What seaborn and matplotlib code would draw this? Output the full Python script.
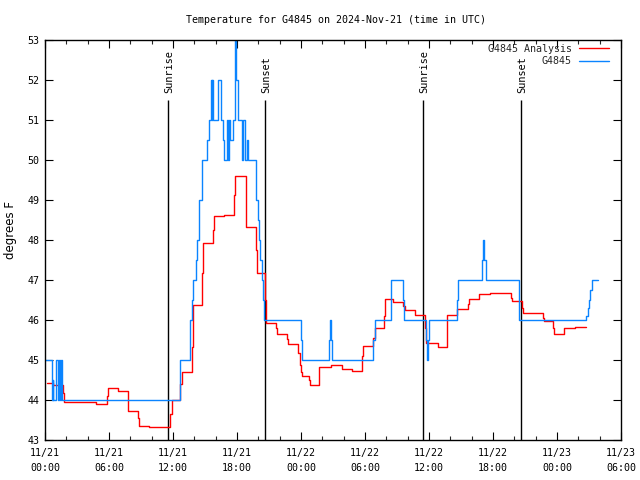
import matplotlib
matplotlib.use("Agg")
import matplotlib.pyplot as plt
import seaborn as sns
import pandas as pd

# ---- data (hours since 2024-11-21 00:00 UTC) ----
analysis_hours = [0.16, 0.72, 1.66, 1.78, 4.78, 5.78, 5.88, 6.82, 7.75, 8.75, 8.84, 9.78,
                  11.72, 11.88, 12.66, 12.81, 13.75, 13.85, 14.75, 14.84, 15.78, 15.87,
                  16.78, 17.75, 17.84, 18.84, 19.78, 19.90, 20.63, 20.72, 21.66, 21.78,
                  22.72, 22.81, 23.75, 23.90, 24.03, 24.12, 24.72, 24.81, 25.72, 26.78,
                  27.81, 28.75, 29.69, 29.78, 30.78, 30.90, 31.78, 31.88, 32.65, 33.59,
                  33.75, 34.69, 35.63, 35.72, 36.81, 37.72, 38.66, 39.69, 39.78, 40.72,
                  41.72, 43.66, 43.75, 44.69, 44.78, 46.72, 46.81, 47.66, 47.75, 48.69,
                  49.69, 50.72]
analysis_temps = [44.42, 44.38, 44.17, 43.94, 43.90, 44.10, 44.29, 44.22, 43.73, 43.54, 43.35, 43.32,
                  43.65, 44.00, 44.40, 44.70, 45.33, 46.38, 47.17, 47.92, 48.25, 48.60,
                  48.63, 49.13, 49.60, 48.33, 47.75, 47.17, 46.50, 45.92, 45.79, 45.64,
                  45.52, 45.39, 45.17, 44.88, 44.70, 44.60, 44.50, 44.37, 44.82, 44.87,
                  44.78, 44.72, 45.10, 45.35, 45.55, 45.79, 46.10, 46.53, 46.46, 46.35,
                  46.25, 46.13, 45.80, 45.42, 45.33, 46.13, 46.27, 46.40, 46.52, 46.65,
                  46.67, 46.55, 46.47, 46.30, 46.17, 46.05, 45.98, 45.80, 45.65, 45.79,
                  45.82, 45.82]

obs_hours = [0.00, 0.63, 0.72, 0.75, 1.00, 1.19, 1.31, 1.41, 1.50, 1.62,
             12.70, 13.55, 13.81, 13.90, 14.16, 14.28, 14.41, 14.69, 14.75, 15.22,
             15.40, 15.53, 15.62, 15.70, 15.78, 16.22, 16.50, 16.66, 16.75, 17.09,
             17.19, 17.28, 17.34, 17.59, 17.81, 17.94, 18.12, 18.50, 18.60, 18.78,
             18.90, 19.00, 19.78, 20.00, 20.09, 20.16, 20.31, 20.44, 20.56, 24.03, 24.12,
             26.62, 26.72, 26.81, 26.90, 30.78, 30.90, 32.40, 33.59, 33.69, 35.72,
             35.81, 35.91, 36.00, 38.66, 38.75, 40.94, 41.03, 41.19, 41.31, 44.40,
             50.72, 50.86, 50.97, 51.10, 51.30, 51.82]
obs_temps = [45.0, 44.0, 44.5, 44.0, 45.0, 44.0, 45.0, 44.0, 45.0, 44.0,
             45.0, 46.0, 46.5, 47.0, 47.5, 48.0, 49.0, 49.5, 50.0, 50.5,
             51.0, 52.0, 51.0, 52.0, 51.0, 52.0, 51.0, 50.5, 50.0, 51.0,
             50.0, 51.0, 50.5, 51.0, 53.0, 52.0, 51.0, 50.0, 51.0, 50.0,
             50.5, 50.0, 49.0, 48.5, 48.0, 47.5, 47.0, 46.5, 46.0, 45.5, 45.0,
             45.5, 46.0, 45.5, 45.0, 45.5, 46.0, 47.0, 46.5, 46.0, 45.5,
             45.0, 45.5, 46.0, 46.5, 47.0, 47.5, 48.0, 47.5, 47.0, 46.0,
             46.1, 46.3, 46.5, 46.75, 47.0, 47.0]

sun_hours = [11.53, 20.63, 35.44, 44.63]
sun_labels = ["Sunrise", "Sunset", "Sunrise", "Sunset"]

series_names = ["G4845 Analysis", "G4845"]
series_colors = {"G4845 Analysis": "#ff0000", "G4845": "#0a84ff"}

x_ticks = [0, 6, 12, 18, 24, 30, 36, 42, 48, 54]
x_tick_labels = ["11/21\n00:00", "11/21\n06:00", "11/21\n12:00", "11/21\n18:00",
                 "11/22\n00:00", "11/22\n06:00", "11/22\n12:00", "11/22\n18:00",
                 "11/23\n00:00", "11/23\n06:00"]
y_ticks = list(range(43, 54))

title = "Temperature for G4845 on 2024-Nov-21 (time in UTC)"
ylabel = "degrees F"

# ---- build table ----
df = pd.concat([
    pd.DataFrame({"hour": analysis_hours, "temp": analysis_temps, "series": series_names[0]}),
    pd.DataFrame({"hour": obs_hours, "temp": obs_temps, "series": series_names[1]}),
], ignore_index=True)

sns.set_theme(style="ticks")
mono = ["DejaVu Sans Mono", "DejaVu Sans"]
plt.rcParams["font.family"] = mono
plt.rcParams["axes.linewidth"] = 1.0

fig = plt.figure(figsize=(6.4, 4.8), dpi=100)
fig.patch.set_facecolor("white")
ax = fig.add_axes([45 / 640, 40 / 480, 576 / 640, 400 / 480])
ax.set_facecolor("white")

# sunrise / sunset markers
ax.vlines(sun_hours, 43, 51.5, colors="black", linewidth=1.0, zorder=1)
for h, lab in zip(sun_hours, sun_labels):
    ax.text(h + 0.1, 51.68, lab, rotation=90, ha="center", va="bottom",
            fontsize=7.4, family=mono, color="black")

sns.lineplot(data=df, x="hour", y="temp", hue="series", hue_order=series_names,
             palette=series_colors, estimator=None, sort=False,
             drawstyle="steps-post", linewidth=1.0, ax=ax, zorder=2)

ax.set_xlim(0, 54)
ax.set_ylim(43, 53)
ax.set_xticks(x_ticks)
ax.set_xticklabels(x_tick_labels)
ax.set_xticks(range(0, 55, 2), minor=True)
ax.set_yticks(y_ticks)
ax.set_yticklabels([str(v) for v in y_ticks])
ax.tick_params(axis="both", which="major", direction="in", length=6, width=0.8,
               top=True, right=True, labelsize=7.2, colors="black", pad=4)
ax.tick_params(axis="x", which="minor", direction="in", length=3, width=0.8,
               top=True, bottom=True)
ax.tick_params(axis="x", which="major", pad=6)
for lbl in ax.get_xticklabels():
    lbl.set_linespacing(1.6)
for sp in ax.spines.values():
    sp.set_color("black")
    sp.set_visible(True)

ax.set_xlabel("")
ax.set_ylabel(ylabel, fontsize=8.5, family=["DejaVu Sans"], color="black")
ax.yaxis.set_label_coords(-0.048, 0.525)

fig.text(336 / 640, 1 - 20 / 480, title, ha="center", va="center", fontsize=7.2,
         family=mono, color="black")

handles, labels = ax.get_legend_handles_labels()
leg = ax.legend(handles, labels, loc="upper right", bbox_to_anchor=(0.979, 0.99),
                frameon=False, markerfirst=False,
                handlelength=3.0, handletextpad=0.7, labelspacing=0.25,
                borderaxespad=0.0, borderpad=0.0, prop={"family": mono, "size": 7.2})
try:
    for col in leg._legend_box.get_children()[1].get_children():
        col.align = "right"
except Exception:
    pass

fig.savefig("out.png", dpi=100, facecolor="white")
